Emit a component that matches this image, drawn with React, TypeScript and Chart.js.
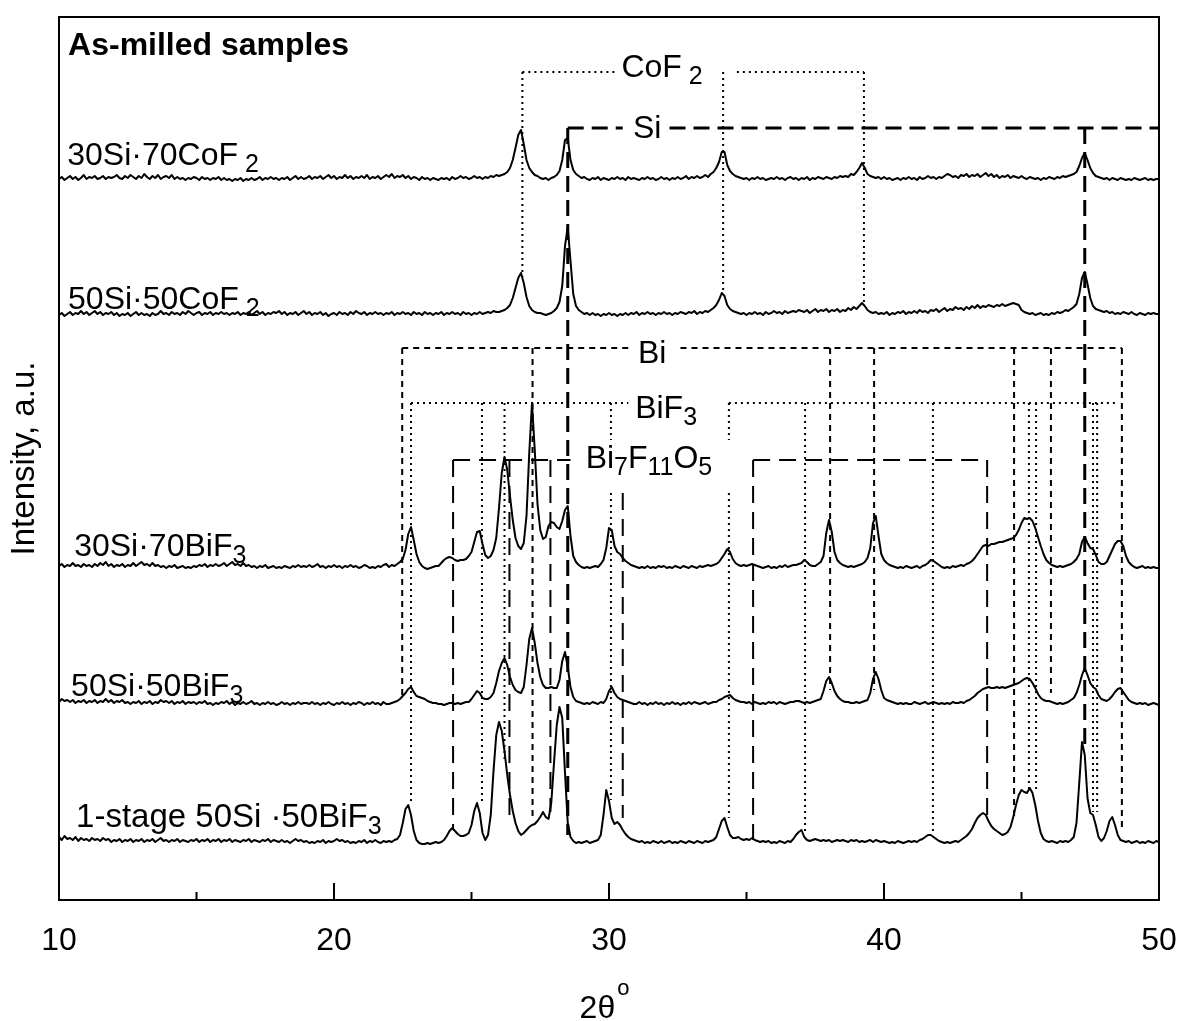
import { useEffect, useRef } from 'react';
import { Chart, registerables } from 'chart.js';

Chart.register(...registerables);

const FONT = '"Liberation Sans", Arial, Helvetica, sans-serif';

// ---------- axes ----------
const X_MIN = 10;
const X_MAX = 50;
const X_TICK_STEP = 10;
const MINOR_TICKS = [15, 25, 35, 45];
const MAJOR_TICKS = [10, 20, 30, 40, 50];
const Y_MIN = 0;
const Y_MAX = 883;
const X_TITLE = '2θ';
const X_TITLE_SUP = 'o';
const X_TITLE_CENTER = 29.8;
const Y_TITLE = 'Intensity, a.u.';

// ---------- samples: step scan, 2θ from 10° to 50° in 0.1° steps (one row per degree) ----------
const SCAN_START = 10;
const SCAN_STEP = 0.1;
const SAMPLE_NAMES = ['30Si·70CoF2', '50Si·50CoF2', '30Si·70BiF3', '50Si·50BiF3', '1-stage 50Si·50BiF3'];
const SAMPLE_OFFSETS = [720, 584, 332, 195, 57];

const S_30Si70CoF2 = [
  /*10*/ 1, 3, 0, 2, 4, 1, 3, 0, 2, 5,
  /*11*/ 1, 3, 2, 4, 1, 2, 4, 1, 3, 2,
  /*12*/ 3, 5, 2, 1, 4, 2, 5, 3, 1, 4,
  /*13*/ 2, 6, 3, 1, 4, 2, 5, 1, 3, 4,
  /*14*/ 2, 5, 1, 3, 1, 2, 0, 2, 1, 3,
  /*15*/ 2, 0, 3, 1, 2, 0, 2, 1, 3, 0,
  /*16*/ 2, 0, 1, -1, 1, 0, 2, -1, 1, 0,
  /*17*/ 2, 0, 1, 3, 0, 2, 1, 3, 1, 2,
  /*18*/ 0, 2, 1, 3, 0, 2, 4, 1, 3, 1,
  /*19*/ 2, 4, 1, 3, 2, 4, 1, 3, 5, 2,
  /*20*/ 4, 1, 3, 2, 5, 2, 4, 1, 3, 2,
  /*21*/ 4, 2, 5, 1, 3, 2, 4, 1, 3, 5,
  /*22*/ 3, 6, 2, 4, 3, 5, 2, 4, 1, 3,
  /*23*/ 2, 0, 3, 1, 2, 0, 2, 1, 0, 2,
  /*24*/ 1, 2, 0, 3, 1, 2, 4, 2, 3, 1,
  /*25*/ 2, 4, 2, 3, 1, 3, 2, 4, 3, 5,
  /*26*/ 4, 5, 6, 8, 12, 20, 32, 45, 50, 36,
  /*27*/ 20, 12, 8, 5, 4, 2, 1, 2, 0, 2,
  /*28*/ 3, 5, 9, 20, 40, 42, 20, 10, 6, 4,
  /*29*/ 2, 3, 1, 0, 2, 1, 3, 0, 2, 1,
  /*30*/ 0, 2, 1, 3, 1, 2, 0, 3, 1, 2,
  /*31*/ 1, 0, 2, 1, 3, 1, 2, 0, 1, 3,
  /*32*/ 1, 2, 0, 2, 1, 3, 1, 2, 4, 1,
  /*33*/ 3, 2, 4, 2, 3, 5, 3, 6, 8, 12,
  /*34*/ 18, 28, 28, 15, 9, 6, 4, 3, 2, 1,
  /*35*/ 2, 0, 2, 1, 3, 1, 2, 0, 1, 2,
  /*36*/ 1, 3, 1, 2, 0, 2, 3, 1, 2, 0,
  /*37*/ 2, 1, 3, 0, 2, 1, 3, 2, 1, 3,
  /*38*/ 2, 1, 3, 2, 4, 3, 4, 3, 6, 5,
  /*39*/ 8, 12, 17, 12, 6, 4, 3, 2, 3, 1,
  /*40*/ 3, 1, 2, 0, 1, 2, 0, 2, 1, 3,
  /*41*/ 1, 2, 0, 3, 1, 2, 4, 2, 3, 1,
  /*42*/ 3, 2, 4, 6, 5, 3, 4, 2, 5, 4,
  /*43*/ 6, 3, 5, 4, 6, 3, 5, 7, 4, 6,
  /*44*/ 3, 5, 2, 4, 3, 5, 2, 4, 3, 2,
  /*45*/ 4, 2, 1, 3, 2, 1, 2, 0, 2, 1,
  /*46*/ 3, 2, 1, 3, 2, 4, 3, 4, 5, 6,
  /*47*/ 8, 14, 22, 27, 20, 12, 7, 4, 3, 2,
  /*48*/ 1, 2, 0, 2, 1, 0, 2, 1, 0, 1,
  /*49*/ 0, 2, 1, 0, 1, 2, 0, 1, 0, 1,
  /*50*/ 1,
];

const S_50Si50CoF2 = [
  /*10*/ 1, 3, 0, 2, 4, 1, 3, 2, 5, 2,
  /*11*/ 4, 1, 3, 5, 2, 4, 1, 3, 2, 4,
  /*12*/ 1, 3, 0, 2, 1, 3, 0, 2, 4, 1,
  /*13*/ 3, 1, 2, 0, 3, 1, 2, 5, 2, 3,
  /*14*/ 1, 4, 2, 3, 1, 4, 2, 5, 3, 1,
  /*15*/ 3, 4, 1, 3, 2, 4, 1, 3, 2, 4,
  /*16*/ 2, 3, 1, 3, 2, 4, 1, 3, 2, 4,
  /*17*/ 1, 3, 5, 2, 4, 1, 3, 2, 4, 3,
  /*18*/ 5, 2, 4, 1, 3, 2, 4, 1, 3, 5,
  /*19*/ 2, 4, 1, 3, 2, 4, 1, 3, 0, 2,
  /*20*/ 3, 1, 4, 2, 3, 1, 4, 2, 5, 3,
  /*21*/ 2, 4, 1, 3, 2, 4, 2, 3, 1, 3,
  /*22*/ 2, 4, 1, 3, 2, 4, 2, 3, 1, 4,
  /*23*/ 2, 3, 1, 4, 2, 3, 1, 3, 2, 4,
  /*24*/ 1, 3, 2, 4, 2, 3, 1, 4, 2, 3,
  /*25*/ 1, 3, 2, 4, 2, 3, 4, 3, 5, 4,
  /*26*/ 4, 5, 6, 8, 11, 18, 28, 38, 43, 33,
  /*27*/ 19, 10, 6, 4, 3, 3, 2, 1, 2, 3,
  /*28*/ 5, 8, 14, 30, 70, 89, 55, 22, 10, 6,
  /*29*/ 4, 2, 3, 1, 3, 1, 2, 0, 2, 1,
  /*30*/ 3, 1, 2, 0, 2, 1, 3, 1, 3, 2,
  /*31*/ 4, 1, 3, 2, 4, 2, 3, 1, 3, 2,
  /*32*/ 4, 2, 3, 1, 3, 2, 4, 3, 2, 4,
  /*33*/ 3, 5, 2, 4, 3, 5, 4, 6, 8, 11,
  /*34*/ 16, 23, 20, 11, 7, 5, 4, 3, 2, 3,
  /*35*/ 1, 3, 2, 4, 2, 3, 1, 4, 2, 3,
  /*36*/ 5, 3, 4, 2, 5, 3, 4, 5, 4, 6,
  /*37*/ 5, 4, 6, 3, 5, 7, 4, 6, 5, 7,
  /*38*/ 4, 6, 5, 7, 4, 6, 5, 8, 6, 9,
  /*39*/ 7, 10, 13, 10, 6, 4, 3, 4, 2, 3,
  /*40*/ 2, 4, 1, 3, 2, 4, 3, 5, 2, 4,
  /*41*/ 3, 5, 3, 6, 4, 5, 3, 6, 5, 7,
  /*42*/ 4, 6, 8, 5, 7, 6, 9, 7, 8, 6,
  /*43*/ 9, 7, 10, 8, 11, 8, 10, 9, 11, 10,
  /*44*/ 9, 11, 10, 12, 10, 11, 12, 13, 12, 11,
  /*45*/ 6, 4, 3, 2, 3, 1, 2, 3, 1, 2,
  /*46*/ 1, 3, 2, 4, 3, 4, 6, 5, 7, 9,
  /*47*/ 12, 22, 38, 44, 32, 18, 10, 7, 6, 5,
  /*48*/ 4, 5, 3, 4, 2, 3, 2, 4, 3, 2,
  /*49*/ 4, 2, 1, 3, 2, 1, 3, 2, 3, 2,
  /*50*/ 2,
];

const S_30Si70BiF3 = [
  /*10*/ 2, 4, 1, 3, 2, 5, 2, 3, 1, 4,
  /*11*/ 2, 3, 1, 4, 2, 5, 3, 6, 2, 4,
  /*12*/ 1, 3, 2, 4, 1, 3, 2, 5, 2, 4,
  /*13*/ 6, 3, 4, 2, 5, 2, 3, 1, 2, 0,
  /*14*/ 2, 1, 3, 0, 1, 2, 0, 1, 0, 2,
  /*15*/ 1, 3, 2, 4, 1, 3, 2, 4, 2, 3,
  /*16*/ 5, 2, 4, 6, 3, 4, 2, 5, 2, 3,
  /*17*/ 1, 2, 0, 2, 1, 3, 0, 1, 2, 0,
  /*18*/ 1, 0, 2, 1, 0, 2, 1, 3, 1, 2,
  /*19*/ 1, 3, 1, 2, 4, 1, 2, 0, 2, 1,
  /*20*/ 3, 1, 2, 0, 2, 1, 3, 1, 2, 0,
  /*21*/ 1, 3, 2, 0, 1, 0, 2, 1, 3, 4,
  /*22*/ 1, 3, 2, 4, 6, 9, 18, 34, 41, 28,
  /*23*/ 14, 6, 2, 0, -1, 0, 1, 2, 2, 5,
  /*24*/ 8, 10, 11, 10, 8, 7, 8, 8, 9, 12,
  /*25*/ 16, 26, 36, 37, 24, 13, 10, 12, 18, 30,
  /*26*/ 60, 95, 111, 98, 72, 48, 30, 22, 19, 25,
  /*27*/ 52, 115, 165, 118, 64, 38, 29, 31, 42, 46,
  /*28*/ 45, 41, 39, 47, 58, 62, 32, 12, 6, 3,
  /*29*/ 1, 0, 1, 0, 1, 2, 1, 4, 8, 20,
  /*30*/ 40, 38, 22, 16, 14, 10, 7, 5, 3, 2,
  /*31*/ 1, 0, 1, 0, 2, 0, 1, 0, 2, 1,
  /*32*/ 2, 0, 1, 0, 2, 1, 0, 2, 1, 0,
  /*33*/ 2, 1, 0, 2, 1, 2, 3, 2, 3, 4,
  /*34*/ 6, 10, 14, 19, 16, 9, 5, 3, 2, 3,
  /*35*/ 2, 3, 4, 3, 2, 1, 0, 1, 2, 0,
  /*36*/ 1, 0, 2, 1, 3, 1, 2, 3, 3, 4,
  /*37*/ 5, 8, 6, 3, 2, 2, 4, 6, 12, 35,
  /*38*/ 48, 36, 16, 8, 5, 3, 2, 1, 2, 1,
  /*39*/ 2, 3, 4, 6, 10, 20, 45, 52, 32, 14,
  /*40*/ 8, 5, 3, 2, 1, 0, 1, 0, 2, 1,
  /*41*/ 0, 1, 2, 0, 2, 3, 5, 8, 7, 5,
  /*42*/ 3, 1, 0, 1, 0, 2, 1, 2, 3, 2,
  /*43*/ 4, 5, 7, 10, 14, 18, 22, 23, 22, 24,
  /*44*/ 24, 25, 26, 26, 27, 28, 29, 30, 33, 38,
  /*45*/ 45, 50, 49, 50, 47, 40, 31, 22, 14, 8,
  /*46*/ 5, 3, 2, 1, 2, 1, 2, 3, 4, 6,
  /*47*/ 9, 14, 26, 31, 25, 20, 19, 13, 6, 4,
  /*48*/ 4, 6, 12, 18, 24, 27, 27, 22, 12, 6,
  /*49*/ 3, 1, 0, 1, 2, 0, 1, 0, 1, 0,
  /*50*/ 0,
];

const S_50Si50BiF3 = [
  /*10*/ 3, 6, 4, 5, 3, 5, 2, 4, 3, 5,
  /*11*/ 2, 4, 3, 5, 2, 4, 3, 6, 3, 5,
  /*12*/ 2, 4, 3, 5, 2, 3, 1, 3, 2, 4,
  /*13*/ 1, 3, 2, 4, 1, 3, 2, 5, 3, 4,
  /*14*/ 2, 4, 1, 3, 2, 4, 1, 3, 2, 3,
  /*15*/ 1, 3, 2, 4, 1, 2, 0, 2, 1, 3,
  /*16*/ 2, 4, 1, 3, 0, 2, 1, 3, 1, 2,
  /*17*/ 4, 1, 2, 0, 2, 1, 3, 1, 2, 0,
  /*18*/ 1, 3, 1, 2, 0, 2, 1, 3, 1, 2,
  /*19*/ 2, 1, 3, 1, 2, 0, 2, 1, 3, 1,
  /*20*/ 0, 2, 1, 3, 1, 2, 0, 2, 1, 3,
  /*21*/ 2, 0, 2, 1, 3, 1, 2, 0, 3, 1,
  /*22*/ 1, 2, 3, 4, 6, 9, 12, 16, 18, 13,
  /*23*/ 9, 8, 7, 6, 4, 3, 2, 2, 1, 1,
  /*24*/ 0, 1, 2, 2, 1, 2, 1, 2, 3, 3,
  /*25*/ 6, 10, 14, 12, 7, 6, 6, 8, 12, 22,
  /*26*/ 34, 42, 47, 40, 28, 20, 15, 13, 12, 18,
  /*27*/ 40, 66, 77, 62, 42, 28, 20, 17, 17, 18,
  /*28*/ 17, 17, 25, 44, 53, 38, 18, 8, 4, 3,
  /*29*/ 2, 1, 2, 1, 3, 2, 1, 3, 2, 6,
  /*30*/ 14, 18, 12, 8, 6, 5, 4, 3, 2, 1,
  /*31*/ 1, 3, 1, 2, 0, 2, 1, 3, 1, 2,
  /*32*/ 0, 2, 1, 3, 1, 2, 0, 2, 1, 3,
  /*33*/ 1, 3, 2, 1, 2, 3, 1, 2, 3, 3,
  /*34*/ 5, 6, 8, 9, 10, 7, 5, 4, 3, 3,
  /*35*/ 2, 3, 1, 3, 2, 1, 2, 1, 3, 2,
  /*36*/ 3, 1, 3, 2, 1, 2, 3, 3, 4, 4,
  /*37*/ 3, 2, 3, 2, 3, 4, 5, 6, 14, 24,
  /*38*/ 28, 22, 14, 9, 6, 4, 3, 3, 2, 2,
  /*39*/ 3, 2, 3, 4, 5, 12, 26, 33, 26, 15,
  /*40*/ 7, 5, 4, 3, 2, 1, 2, 1, 2, 1,
  /*41*/ 1, 3, 2, 1, 2, 3, 1, 2, 3, 2,
  /*42*/ 1, 2, 1, 2, 1, 3, 2, 2, 3, 2,
  /*43*/ 4, 5, 7, 9, 12, 14, 16, 17, 18, 17,
  /*44*/ 17, 18, 17, 18, 17, 18, 19, 20, 21, 22,
  /*45*/ 24, 26, 27, 26, 22, 17, 11, 7, 5, 4,
  /*46*/ 4, 3, 2, 1, 2, 1, 2, 3, 5, 7,
  /*47*/ 12, 20, 30, 37, 30, 22, 18, 16, 10, 6,
  /*48*/ 5, 4, 6, 9, 13, 16, 17, 13, 9, 5,
  /*49*/ 3, 2, 1, 2, 1, 2, 0, 1, 2, 1,
  /*50*/ 0,
];

const S_1stage50Si50BiF3 = [
  /*10*/ 6, 3, 7, 4, 5, 3, 6, 2, 5, 3,
  /*11*/ 4, 2, 5, 3, 4, 2, 5, 3, 4, 1,
  /*12*/ 3, 2, 4, 1, 3, 2, 4, 1, 3, 2,
  /*13*/ 4, 1, 3, 2, 4, 1, 3, 5, 2, 3,
  /*14*/ 1, 3, 2, 4, 1, 3, 2, 1, 3, 2,
  /*15*/ 4, 1, 3, 2, 4, 1, 3, 2, 4, 1,
  /*16*/ 3, 2, 4, 1, 3, 2, 1, 3, 2, 4,
  /*17*/ 1, 3, 2, 1, 3, 2, 4, 1, 3, 2,
  /*18*/ 1, 3, 1, 2, 0, 2, 4, 2, 3, 1,
  /*19*/ 2, 0, 1, 0, 2, 1, 3, 0, 2, 1,
  /*20*/ 2, 4, 2, 3, 1, 2, 0, 1, 0, 2,
  /*21*/ 1, 3, 0, 2, 1, 3, 1, 0, 2, 1,
  /*22*/ 2, 1, 3, 4, 8, 20, 34, 38, 28, 12,
  /*23*/ 3, 0, -1, -1, 0, -1, 0, 1, 0, 1,
  /*24*/ 3, 7, 12, 15, 12, 9, 7, 7, 8, 10,
  /*25*/ 18, 32, 40, 30, 10, 3, 8, 28, 72, 108,
  /*26*/ 121, 112, 92, 68, 48, 32, 20, 12, 8, 10,
  /*27*/ 13, 16, 18, 19, 22, 26, 31, 26, 24, 40,
  /*28*/ 80, 118, 136, 125, 70, 20, 6, 2, 0, 1,
  /*29*/ 0, 1, 2, 0, 1, 2, 3, 8, 28, 53,
  /*30*/ 42, 25, 19, 21, 18, 13, 9, 6, 4, 3,
  /*31*/ 2, 1, 2, 0, 1, 0, 2, 1, 0, 2,
  /*32*/ 0, 1, 2, 0, 1, 0, 2, 1, 0, 2,
  /*33*/ 1, 0, 2, 1, 0, 2, 1, 2, 3, 6,
  /*34*/ 14, 22, 25, 16, 8, 5, 5, 6, 4, 3,
  /*35*/ 4, 3, 5, 3, 2, 1, 2, 1, 2, 0,
  /*36*/ 1, 0, 2, 1, 0, 2, 1, 4, 8, 11,
  /*37*/ 13, 6, 3, 2, 3, 4, 3, 2, 3, 2,
  /*38*/ 3, 1, 2, 3, 2, 3, 2, 1, 3, 2,
  /*39*/ 3, 1, 2, 1, 2, 3, 1, 3, 2, 1,
  /*40*/ 2, 1, 0, 1, 0, 2, 1, 0, 1, 2,
  /*41*/ 1, 2, 1, 3, 4, 6, 8, 8, 6, 4,
  /*42*/ 2, 1, 0, 1, 0, 1, 2, 1, 3, 5,
  /*43*/ 7, 10, 14, 20, 25, 28, 30, 28, 22, 17,
  /*44*/ 14, 12, 10, 8, 9, 11, 16, 26, 38, 48,
  /*45*/ 53, 51, 50, 55, 50, 38, 22, 10, 4, 2,
  /*46*/ 1, 2, 1, 0, 2, 1, 2, 1, 3, 6,
  /*47*/ 20, 60, 101, 88, 45, 30, 28, 18, 6, 2,
  /*48*/ 5, 12, 22, 26, 18, 8, 3, 2, 1, 2,
  /*49*/ 0, 1, 2, 0, 1, 0, 2, 1, 0, 2,
  /*50*/ 1,
];

const SAMPLE_DATA = [S_30Si70CoF2, S_50Si50CoF2, S_30Si70BiF3, S_50Si50BiF3, S_1stage50Si50BiF3];

// ---------- reference-phase markers ----------
// CoF2 (dotted)
const COF2_LEVEL = 828;
const COF2_SEGMENTS = [[26.85, 30.2], [34.65, 39.27]];
const COF2_LINES = [26.85, 34.15, 39.27];
const COF2_LINE_ENDS = [623, 607, 597];
// Si (long dash)
const SI_LEVEL = 772;
const SI_SEGMENTS = [[28.5, 30.5], [32.2, 50]];
const SI_LINES = [28.5, 47.3];
const SI_LINE_ENDS = [65, 155];
// Bi (short dash)
const BI_LEVEL = 552;
const BI_SEGMENTS = [[22.48, 30.7], [32.6, 48.65]];
const BI_LINES = [22.48, 27.22, 38.04, 39.64, 44.73, 46.07, 48.65];
const BI_LINE_ENDS = [203, 80, 210, 210, 82, 207, 70];
// BiF3 (dotted)
const BIF3_LEVEL = 497;
const BIF3_SEGMENTS = [[22.8, 30.7], [34.36, 48.4]];
const BIF3_LINES = [22.8, 25.38, 26.2, 30.07, 34.36, 37.13, 41.78, 45.27, 45.53, 47.6, 47.75];
const BIF3_LINE_ENDS = [95, 97, 140, 100, 82, 68, 68, 110, 107, 88, 88];
const BIF3_LABEL_GAP = [407, 460];
const BIF3_GAPPED_LINES = [30.07, 34.36];
// Bi7F11O5 (dash)
const BOF_LEVEL = 440;
const BOF_SEGMENTS = [[24.33, 28.6], [35.24, 43.75]];
const BOF_LINES = [24.33, 26.38, 27.87, 30.5, 35.24, 43.75];
const BOF_LINE_TOPS = [440, 440, 440, 407, 440, 440];
const BOF_LINE_ENDS = [70, 78, 88, 82, 60, 82];

type Pt = { x: number; y: number | null };

function toPoints(values: number[], offset: number): Pt[] {
  return values.map((v, i) => ({ x: Math.round((SCAN_START + i * SCAN_STEP) * 10) / 10, y: v + offset }));
}

function bracket(level: number, segs: number[][], lines: number[], ends: number[], tops?: number[], gap?: number[], gapped?: number[]): Pt[] {
  const pts: Pt[] = [];
  segs.forEach(([a, b]) => {
    pts.push({ x: a, y: level }, { x: b, y: level }, { x: b, y: null });
  });
  lines.forEach((x, i) => {
    const top = tops ? tops[i] : level;
    if (gap && gapped && gapped.includes(x)) {
      pts.push({ x, y: top }, { x, y: gap[1] }, { x, y: null });
      pts.push({ x, y: gap[0] }, { x, y: ends[i] }, { x, y: null });
    } else {
      pts.push({ x, y: top }, { x, y: ends[i] }, { x, y: null });
    }
  });
  return pts;
}

// ---------- text (positions in data units) ----------
type Part = [string, number]; // 0 normal, 1 subscript
const TITLE = 'As-milled samples';
const TITLE_POS = [10.33, 845];
const SAMPLE_LABELS: Part[][] = [
  [['30Si·70CoF', 0], [' 2', 1]],
  [['50Si·50CoF', 0], [' 2', 1]],
  [['30Si·70BiF', 0], ['3', 1]],
  [['50Si·50BiF', 0], ['3', 1]],
  [['1-stage 50Si ·50BiF', 0], ['3', 1]],
];
const SAMPLE_LABEL_SIZES = [32, 32, 32, 32, 33];
const SAMPLE_LABEL_POS = [[10.3, 735], [10.33, 591], [10.55, 344], [10.44, 204], [10.62, 73]];
const PHASE_LABELS: Part[][] = [
  [['CoF', 0], [' 2', 1]],
  [['Si', 0]],
  [['Bi', 0]],
  [['BiF', 0], ['3', 1]],
  [['Bi', 0], ['7', 1], ['F', 0], ['11', 1], ['O', 0], ['5', 1]],
];
const PHASE_LABEL_POS = [[30.45, 823], [30.87, 762], [31.05, 537], [30.95, 482], [29.15, 432]];

function drawRich(ctx: CanvasRenderingContext2D, x: number, y: number, parts: Part[], size: number, subSize: number, drop: number) {
  let cx = x;
  ctx.textBaseline = 'alphabetic';
  ctx.textAlign = 'left';
  parts.forEach(([t, sub]) => {
    ctx.font = `${sub ? subSize : size}px ${FONT}`;
    ctx.fillText(t, cx, y + (sub ? drop : 0));
    cx += ctx.measureText(t).width;
  });
}

const overlay = {
  id: 'overlay',
  afterDatasetsDraw(chart: any) {
    const { ctx, chartArea: a, scales } = chart;
    const xs = scales.x;
    const ys = scales.y;
    ctx.save();
    ctx.strokeStyle = '#000';
    ctx.fillStyle = '#000';
    ctx.lineWidth = 2;
    ctx.setLineDash([]);
    ctx.strokeRect(a.left, a.top, a.right - a.left, a.bottom - a.top);
    // inward ticks
    ctx.beginPath();
    MAJOR_TICKS.forEach((v) => {
      const px = xs.getPixelForValue(v);
      ctx.moveTo(px, a.bottom);
      ctx.lineTo(px, a.bottom - 17);
    });
    MINOR_TICKS.forEach((v) => {
      const px = xs.getPixelForValue(v);
      ctx.moveTo(px, a.bottom);
      ctx.lineTo(px, a.bottom - 8);
    });
    ctx.stroke();
    // title
    ctx.font = `bold 32px ${FONT}`;
    ctx.textBaseline = 'alphabetic';
    ctx.textAlign = 'left';
    ctx.fillText(TITLE, xs.getPixelForValue(TITLE_POS[0]), ys.getPixelForValue(TITLE_POS[1]));
    SAMPLE_LABELS.forEach((p, i) => {
      drawRich(ctx, xs.getPixelForValue(SAMPLE_LABEL_POS[i][0]), ys.getPixelForValue(SAMPLE_LABEL_POS[i][1]), p, SAMPLE_LABEL_SIZES[i], 25, 7);
    });
    PHASE_LABELS.forEach((p, i) => {
      drawRich(ctx, xs.getPixelForValue(PHASE_LABEL_POS[i][0]), ys.getPixelForValue(PHASE_LABEL_POS[i][1]), p, 32, 25, 7);
    });
    // x axis title with superscript
    const cx = xs.getPixelForValue(X_TITLE_CENTER);
    ctx.font = `32px ${FONT}`;
    const w1 = ctx.measureText(X_TITLE).width;
    ctx.font = `22px ${FONT}`;
    const w2 = ctx.measureText(X_TITLE_SUP).width;
    const start = cx - (w1 + w2) / 2;
    ctx.font = `32px ${FONT}`;
    ctx.fillText(X_TITLE, start, 1018);
    ctx.font = `22px ${FONT}`;
    ctx.fillText(X_TITLE_SUP, start + w1 + 2, 995);
    ctx.restore();
  },
};

function traceDataset(i: number) {
  return {
    label: SAMPLE_NAMES[i],
    data: toPoints(SAMPLE_DATA[i], SAMPLE_OFFSETS[i]),
    borderColor: '#000',
    borderWidth: 2,
    borderJoinStyle: 'round' as const,
    pointRadius: 0,
    tension: 0,
    fill: false,
  };
}

function markerDataset(label: string, data: Pt[], dash: number[], width: number) {
  return {
    label,
    data,
    borderColor: '#000',
    borderWidth: width,
    borderDash: dash,
    pointRadius: 0,
    tension: 0,
    fill: false,
    spanGaps: false,
  };
}

export default function App() {
  const ref = useRef<HTMLCanvasElement>(null);
  useEffect(() => {
    if (!ref.current) return;
    const datasets: any[] = [
      markerDataset('CoF2', bracket(COF2_LEVEL, COF2_SEGMENTS, COF2_LINES, COF2_LINE_ENDS), [2, 4], 2),
      markerDataset('Si', bracket(SI_LEVEL, SI_SEGMENTS, SI_LINES, SI_LINE_ENDS), [16, 8], 3),
      markerDataset('Bi', bracket(BI_LEVEL, BI_SEGMENTS, BI_LINES, BI_LINE_ENDS), [6, 5], 2),
      markerDataset('BiF3', bracket(BIF3_LEVEL, BIF3_SEGMENTS, BIF3_LINES, BIF3_LINE_ENDS, undefined, BIF3_LABEL_GAP, BIF3_GAPPED_LINES), [2, 4], 2),
      markerDataset('Bi7F11O5', bracket(BOF_LEVEL, BOF_SEGMENTS, BOF_LINES, BOF_LINE_ENDS, BOF_LINE_TOPS), [17, 9], 2),
      ...SAMPLE_DATA.map((_, i) => traceDataset(i)),
    ];
    const chart = new Chart(ref.current, {
      type: 'line',
      data: { datasets },
      options: {
        responsive: false,
        animation: false,
        devicePixelRatio: 1,
        events: [],
        layout: { padding: { top: 17, right: 20, left: 0, bottom: 0 } },
        plugins: { legend: { display: false }, tooltip: { enabled: false }, title: { display: false } },
        scales: {
          x: {
            type: 'linear',
            min: X_MIN,
            max: X_MAX,
            grid: { display: false, drawTicks: false },
            border: { display: false },
            ticks: {
              stepSize: X_TICK_STEP,
              color: '#000',
              font: { family: FONT, size: 32 },
              padding: 22,
              maxRotation: 0,
              autoSkip: false,
            },
            afterFit: (s: any) => { s.height = 121; s.paddingLeft = 0; s.paddingRight = 0; },
          },
          y: {
            type: 'linear',
            min: Y_MIN,
            max: Y_MAX,
            grid: { display: false, drawTicks: false },
            border: { display: false },
            ticks: { display: false },
            title: {
              display: true,
              text: Y_TITLE,
              color: '#000',
              font: { family: FONT, size: 33 },
              padding: { top: 5, bottom: 0 },
            },
            afterFit: (s: any) => { s.width = 59; s.paddingTop = 0; s.paddingBottom = 0; },
          },
        },
      },
      plugins: [overlay],
    } as any);
    return () => chart.destroy();
  }, []);
  return (
    <div style={{ position: 'absolute', left: 0, top: 0, width: 1179, height: 1021, background: '#fff' }}>
      <canvas ref={ref} width={1179} height={1021} style={{ display: 'block', width: 1179, height: 1021 }} />
    </div>
  );
}
